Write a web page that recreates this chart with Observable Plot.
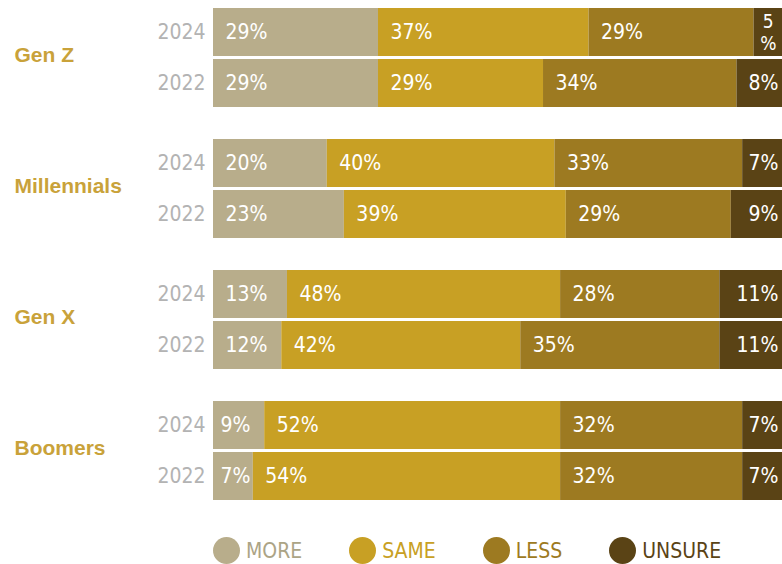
<!DOCTYPE html>
<html>
<head>
<meta charset="utf-8">
<script src="https://cdn.jsdelivr.net/npm/d3@7"></script>
<script src="https://cdn.jsdelivr.net/npm/@observablehq/plot@0.6"></script>
<style>
  body { margin: 0; background: #fff; }
  #legend { display: flex; align-items: center; margin-left: 213px; margin-top: 37px; gap: 47px;
    font-family: 'DejaVu Sans', sans-serif; font-stretch: condensed; font-size: 21px; }
  .item { display: flex; align-items: center; gap: 6px; }
  .dot { width: 27px; height: 27px; border-radius: 50%; display: inline-block; }
  svg text { font-stretch: condensed; }
</style>
</head>
<body>
<div id="chart"></div>
<div id="legend"></div>
<script>
const generations = ["Gen Z", "Millennials", "Gen X", "Boomers"];
const years = ["2024", "2022"];
const responses = ["MORE", "SAME", "LESS", "UNSURE"];
const colors = ["#b8ad8b", "#c8a024", "#9d7a21", "#5a4315"];

const genZ2024 = [29, 37, 29, 5];
const genZ2022 = [29, 29, 34, 8];
const millennials2024 = [20, 40, 33, 7];
const millennials2022 = [23, 39, 29, 9];
const genX2024 = [13, 48, 28, 11];
const genX2022 = [12, 42, 35, 11];
const boomers2024 = [9, 52, 32, 7];
const boomers2022 = [7, 54, 32, 7];

const rows = [
  ["Gen Z", "2024", genZ2024], ["Gen Z", "2022", genZ2022],
  ["Millennials", "2024", millennials2024], ["Millennials", "2022", millennials2022],
  ["Gen X", "2024", genX2024], ["Gen X", "2022", genX2022],
  ["Boomers", "2024", boomers2024], ["Boomers", "2022", boomers2022]
];
const data = rows.flatMap(([gen, year, vals]) =>
  vals.map((value, i) => ({gen, year, response: responses[i], value})));

const font = "'DejaVu Sans', sans-serif";
const base = {x: "value", y: "year", fy: "gen"};
const narrowUnsure = d => d.response === "UNSURE" && d.value < 6;

const chart = Plot.plot({
  width: 782,
  height: 500,
  marginLeft: 213,
  marginRight: 0,
  marginTop: 8,
  marginBottom: 0,
  style: {fontFamily: font, fontSize: "21px", background: "#fff"},
  x: {domain: [0, 100], axis: null},
  y: {domain: years, paddingInner: 3 / 51, paddingOuter: 0, label: null},
  fy: {domain: generations, paddingInner: 32 / 131, paddingOuter: 0, axis: null, label: null},
  color: {domain: responses, range: colors},
  marks: [
    Plot.barX(data, Plot.stackX({...base, fill: "response"})),
    Plot.axisY({tickSize: 0, tickPadding: 8, color: "#b3b3b3", fontSize: 21, label: null}),
    Plot.text(generations, {fy: d => d, text: d => d, frameAnchor: "left", dx: -199, dy: -3,
      textAnchor: "start", fill: "#c9a23a", fontWeight: "bold", fontSize: 21,
      fontFamily: "'Liberation Sans', Arial, sans-serif"}),
    Plot.text(data, Plot.stackX1({...base,
      text: d => (d.response !== "UNSURE" && d.value >= 10) ? d.value + "%" : null,
      textAnchor: "start", dx: 12, fill: "#fff"})),
    Plot.text(data, Plot.stackX1({...base,
      text: d => (d.response !== "UNSURE" && d.value < 10) ? d.value + "%" : null,
      textAnchor: "start", dx: 7, fill: "#fff"})),
    Plot.text(data, Plot.stackX2({...base,
      text: d => (d.response === "UNSURE" && d.value >= 6) ? d.value + "%" : null,
      textAnchor: "end", dx: -4, fill: "#fff"})),
    Plot.text(data, Plot.stackX({...base,
      text: d => narrowUnsure(d) ? String(d.value) : null,
      textAnchor: "middle", dy: -11, fill: "#fff", fontSize: 19})),
    Plot.text(data, Plot.stackX({...base,
      text: d => narrowUnsure(d) ? "%" : null,
      textAnchor: "middle", dy: 11, fill: "#fff", fontSize: 19}))
  ]
});
document.getElementById("chart").append(chart);

const legend = document.getElementById("legend");
responses.forEach((r, i) => {
  const item = document.createElement("div");
  item.className = "item";
  const dot = document.createElement("span");
  dot.className = "dot";
  dot.style.background = colors[i];
  const label = document.createElement("span");
  label.textContent = r;
  label.style.color = i === 0 ? "#aca486" : colors[i];
  item.append(dot, label);
  legend.append(item);
});
</script>
</body>
</html>
